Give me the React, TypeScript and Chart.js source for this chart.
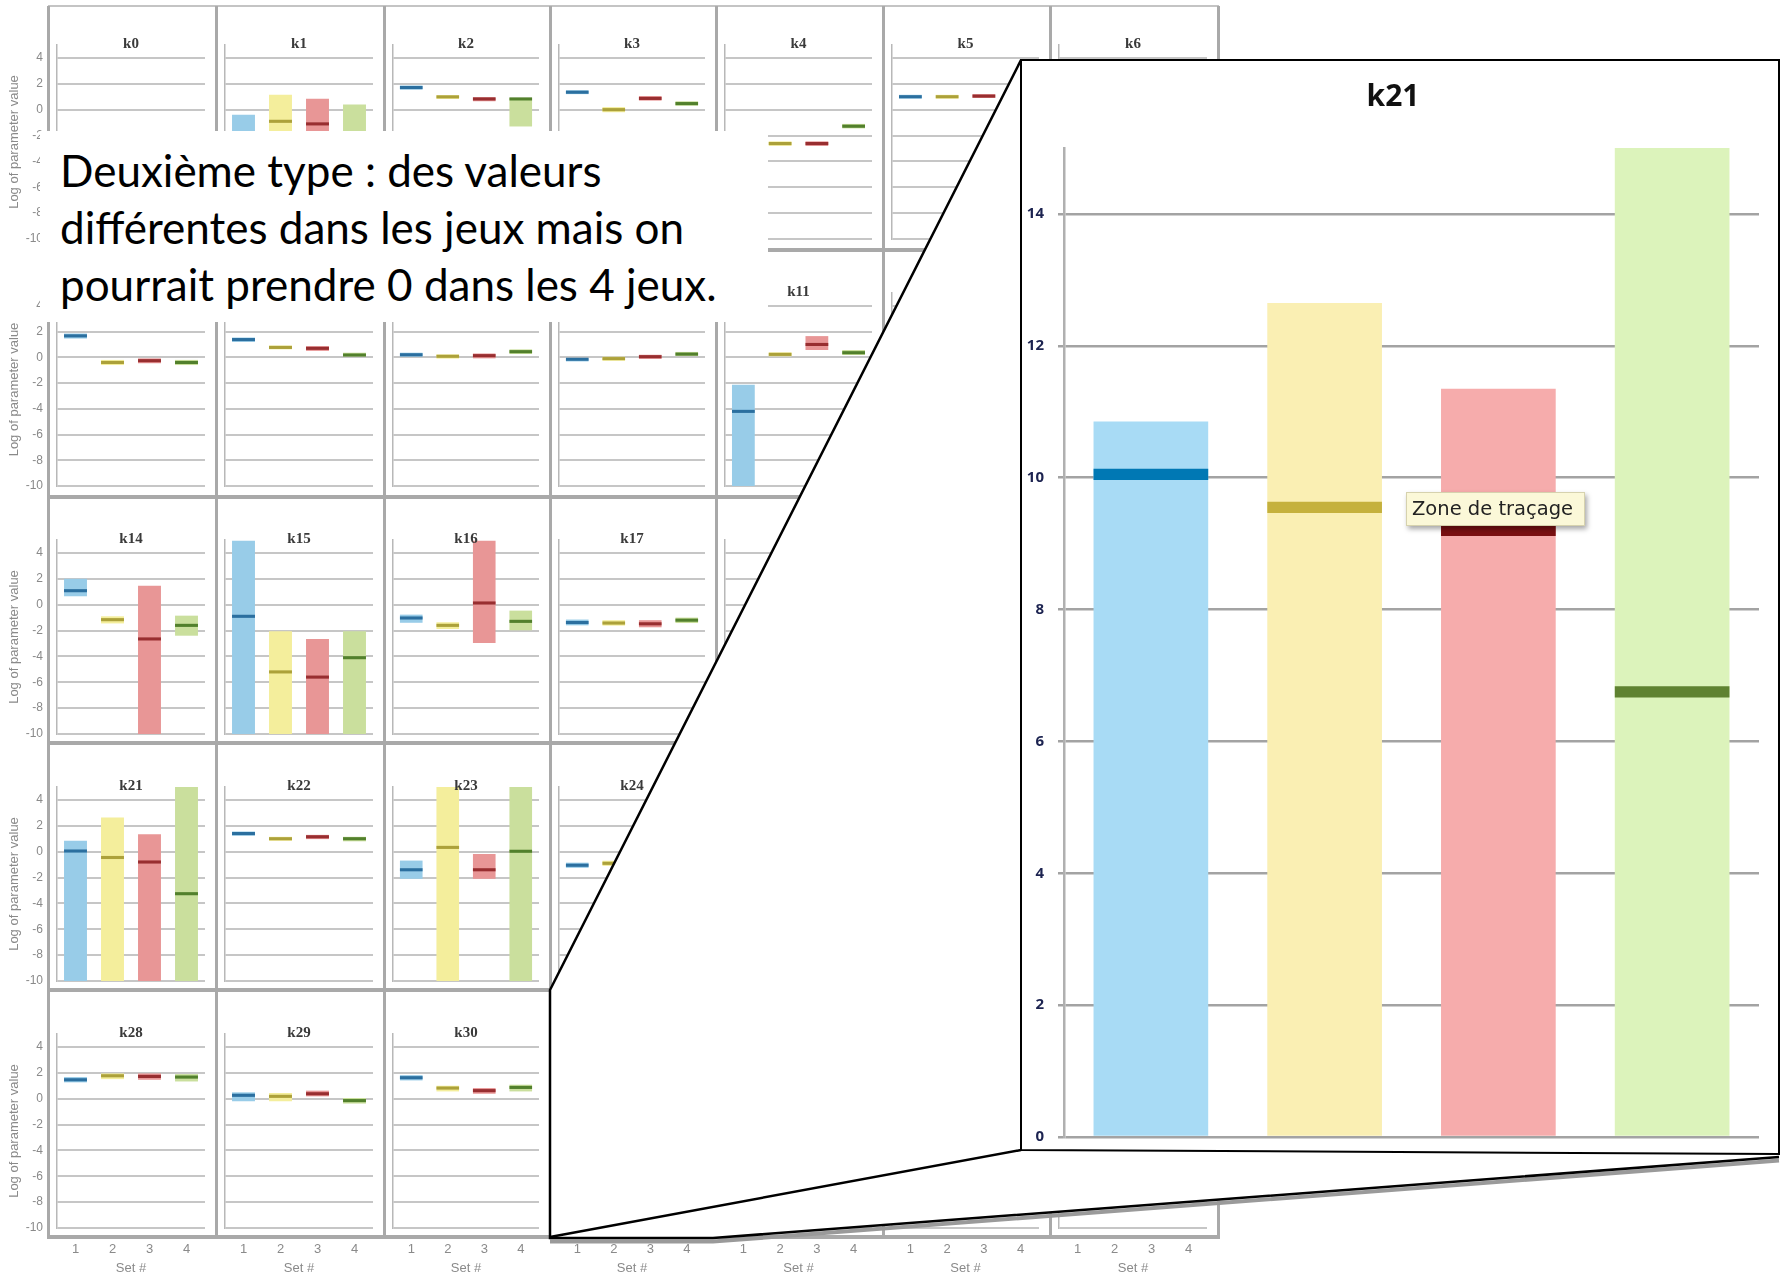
import React, { useEffect, useRef } from 'react';
import { Chart, registerables } from 'chart.js';

Chart.register(...registerables);

// ---------------- data ----------------
const setLabels = ['1', '2', '3', '4'];
const paramNames = [
  'k0', 'k1', 'k2', 'k3', 'k4', 'k5', 'k6',
  'k7', 'k8', 'k9', 'k10', 'k11', 'k12', 'k13',
  'k14', 'k15', 'k16', 'k17', 'k18', 'k19', 'k20',
  'k21', 'k22', 'k23', 'k24', 'k25', 'k26', 'k27',
  'k28', 'k29', 'k30', 'k31', 'k32', 'k33', 'k34',
];
const emptySet: (number | null)[] = [null, null, null, null];

const k1Low = [-10, -10, -10, -10];
const k1High = [-0.4, 1.15, 0.85, 0.4];
const k1Median = [-3.5, -0.9, -1.1, -3.0];

const k2Low = [1.55, 0.83, 0.65, -1.3];
const k2High = [1.87, 1.12, 0.96, 0.91];
const k2Median = [1.71, 0.99, 0.83, 0.83];

const k3Low = [1.2, -0.2, 0.7, 0.3];
const k3High = [1.5, 0.2, 1.05, 0.65];
const k3Median = [1.35, 0.0, 0.87, 0.47];

const k4Low = [-4.3, -2.8, -2.8, -1.45];
const k4High = [-3.7, -2.45, -2.45, -1.1];
const k4Median = [-4.0, -2.62, -2.62, -1.28];

const k5Low = [0.85, 0.85, 0.9, 0.85];
const k5High = [1.15, 1.15, 1.2, 1.15];
const k5Median = [1.0, 1.0, 1.05, 1.0];

const k7Low = [1.46, -0.6, -0.46, -0.6];
const k7High = [1.85, -0.2, -0.08, -0.2];
const k7Median = [1.67, -0.4, -0.26, -0.4];

const k8Low = [1.2, 0.62, 0.5, 0.0];
const k8High = [1.54, 0.92, 0.87, 0.36];
const k8Median = [1.38, 0.77, 0.7, 0.18];

const k9Low = [0.05, -0.1, -0.08, 0.26];
const k9High = [0.36, 0.23, 0.3, 0.62];
const k9Median = [0.2, 0.08, 0.13, 0.44];

const k10Low = [-0.32, -0.27, -0.12, 0.1];
const k10High = [0.0, 0.05, 0.2, 0.42];
const k10Median = [-0.15, -0.1, 0.05, 0.25];

const k11Low = [-10, 0.0, 0.57, 0.18];
const k11High = [-2.13, 0.39, 1.65, 0.57];
const k11Median = [-4.2, 0.23, 1.0, 0.36];

const k14Low = [0.65, -1.45, -10, -2.4];
const k14High = [2.0, -0.9, 1.47, -0.85];
const k14Median = [1.08, -1.16, -2.65, -1.6];

const k15Low = [-10, -10, -10, -10];
const k15High = [4.95, -2.06, -2.65, -2.06];
const k15Median = [-0.9, -5.2, -5.6, -4.1];

const k16Low = [-1.4, -1.88, -2.96, -1.98];
const k16High = [-0.77, -1.36, 4.94, -0.46];
const k16Median = [-1.03, -1.6, 0.13, -1.29];

const k17Low = [-1.6, -1.62, -1.75, -1.42];
const k17High = [-1.15, -1.2, -1.2, -1.0];
const k17Median = [-1.38, -1.42, -1.48, -1.2];

const k21Low = [-10, -10, -10, -10];
const k21High = [0.85, 2.65, 1.35, 5.0];
const k21Median = [0.05, -0.45, -0.8, -3.25];

const k22Low = [1.23, 0.84, 0.97, 0.8];
const k22High = [1.56, 1.15, 1.3, 1.15];
const k22Median = [1.4, 1.0, 1.15, 1.0];

const k23Low = [-2.1, -10, -2.1, -10];
const k23High = [-0.69, 5.0, -0.18, 5.0];
const k23Median = [-1.4, 0.33, -1.4, 0.03];

const k24Low = [-1.25, -1.1, -1.3, -1.3];
const k24High = [-0.85, -0.7, -0.9, -0.9];
const k24Median = [-1.05, -0.9, -1.1, -1.1];

const k28Low = [1.26, 1.51, 1.46, 1.33];
const k28High = [1.67, 1.95, 1.95, 1.9];
const k28Median = [1.46, 1.77, 1.72, 1.67];

const k29Low = [-0.2, -0.2, 0.18, -0.38];
const k29High = [0.49, 0.44, 0.62, 0.05];
const k29Median = [0.26, 0.18, 0.38, -0.15];

const k30Low = [1.41, 0.56, 0.38, 0.56];
const k30High = [1.82, 1.0, 0.82, 1.08];
const k30Median = [1.62, 0.82, 0.62, 0.87];

// zoomed k21 panel (axis shifted: 0 .. 15)
const zoomLow = [0, 0, 0, 0];
const zoomHigh = [10.85, 12.65, 11.35, 15.0];
const zoomMedian = [10.05, 9.55, 9.2, 6.75];

const smallTicks = { min: -10, max: 5, step: 2 };
const zoomTicks = { min: 0, max: 15, step: 2 };

const gridLow = [
  emptySet, k1Low, k2Low, k3Low, k4Low, k5Low, emptySet,
  k7Low, k8Low, k9Low, k10Low, k11Low, emptySet, emptySet,
  k14Low, k15Low, k16Low, k17Low, emptySet, emptySet, emptySet,
  k21Low, k22Low, k23Low, k24Low, emptySet, emptySet, emptySet,
  k28Low, k29Low, k30Low, emptySet, emptySet, emptySet, emptySet,
];
const gridHigh = [
  emptySet, k1High, k2High, k3High, k4High, k5High, emptySet,
  k7High, k8High, k9High, k10High, k11High, emptySet, emptySet,
  k14High, k15High, k16High, k17High, emptySet, emptySet, emptySet,
  k21High, k22High, k23High, k24High, emptySet, emptySet, emptySet,
  k28High, k29High, k30High, emptySet, emptySet, emptySet, emptySet,
];
const gridMedian = [
  emptySet, k1Median, k2Median, k3Median, k4Median, k5Median, emptySet,
  k7Median, k8Median, k9Median, k10Median, k11Median, emptySet, emptySet,
  k14Median, k15Median, k16Median, k17Median, emptySet, emptySet, emptySet,
  k21Median, k22Median, k23Median, k24Median, emptySet, emptySet, emptySet,
  k28Median, k29Median, k30Median, emptySet, emptySet, emptySet, emptySet,
];

// ---------------- styles / layout ----------------
const rangeColors = ['#98cce8', '#f4ee9c', '#e89696', '#cadf9d'];
const medianColors = ['#2b6f9f', '#aca13a', '#982e30', '#52802c'];
const zoomRangeColors = ['#a8dbf5', '#faefb3', '#f6acac', '#dcf3bb'];
const zoomMedianColors = ['#0078b4', '#c5b13d', '#7a1012', '#5f8231'];

const COL_X = [48, 216, 384, 550, 716, 883, 1050, 1218];
const ROW_Y = [6, 250, 497, 743, 990, 1237];
const ZERO_Y0 = 110;
const ROW_STEP = 247.2;
const PX_UNIT = 12.92;
const MED_HALF = 0.12;
const ZOOM_MED_HALF = 0.085;

const cellTitlePlugin = {
  id: 'cellTitle',
  afterDatasetsDraw(chart: any, _args: any, opts: any) {
    if (!opts || !opts.text) return;
    const { ctx, chartArea } = chart;
    ctx.save();
    ctx.font = opts.font;
    ctx.fillStyle = opts.color;
    ctx.textAlign = 'center';
    ctx.textBaseline = 'middle';
    ctx.fillText(opts.text, (chartArea.left + chartArea.right) / 2, chartArea.top - 1);
    ctx.restore();
  },
};

function SmallChart({ index }: { index: number }) {
  const ref = useRef<HTMLCanvasElement | null>(null);
  const col = index % 7;
  const row = Math.floor(index / 7);
  const zero = ZERO_Y0 + ROW_STEP * row;
  const areaTop = Math.round(zero - smallTicks.max * PX_UNIT);
  const areaBottom = Math.round(zero - smallTicks.min * PX_UNIT);
  const areaLeft = COL_X[col] + 9;
  const areaRight = COL_X[col + 1] - 11;
  const cLeft = col === 0 ? 0 : COL_X[col];
  const cRight = COL_X[col + 1];
  const cTop = ROW_Y[row];
  const cBottom = row === 4 ? 1280 : ROW_Y[row + 1];
  const w = cRight - cLeft;
  const h = cBottom - cTop;
  const firstCol = col === 0;
  const lastRow = row === 4;

  useEffect(() => {
    const low = gridLow[index];
    const high = gridHigh[index];
    const med = gridMedian[index];
    const yWidth = firstCol ? areaLeft - cLeft - 4 : 0;
    const xHeight = lastRow ? cBottom - areaBottom : 0;
    const chart = new Chart(ref.current as HTMLCanvasElement, {
      type: 'bar',
      data: {
        labels: setLabels,
        datasets: [
          {
            label: 'median',
            data: med.map((m: any) => (m == null ? null : [m - MED_HALF, m + MED_HALF])),
            backgroundColor: medianColors,
            order: 0,
            grouped: false,
            barPercentage: 0.62,
            categoryPercentage: 1,
          } as any,
          {
            label: 'range',
            data: low.map((l: any, i: number) => (l == null ? null : [l, high[i]])),
            backgroundColor: rangeColors,
            order: 1,
            grouped: false,
            barPercentage: 0.62,
            categoryPercentage: 1,
          } as any,
        ],
      },
      options: {
        responsive: false,
        animation: false,
        devicePixelRatio: 1,
        events: [],
        layout: {
          padding: {
            left: firstCol ? 4 : areaLeft - cLeft,
            right: cRight - areaRight,
            top: areaTop - cTop,
            bottom: lastRow ? 0 : cBottom - areaBottom,
          },
        },
        plugins: {
          legend: { display: false },
          tooltip: { enabled: false },
          cellTitle: { text: paramNames[index], font: 'bold 15px "Liberation Serif"', color: '#3a3a3a' },
        } as any,
        scales: {
          x: {
            display: lastRow,
            grid: { display: false, drawTicks: false },
            border: { display: false },
            ticks: { padding: 14, color: '#8a8a8a', font: { family: 'Liberation Sans', size: 13 } },
            title: {
              display: true,
              text: 'Set #',
              color: '#8a8a8a',
              font: { family: 'Liberation Sans', size: 13 },
              padding: { top: 0, bottom: 4 },
            },
            afterFit: (s: any) => { s.height = xHeight; },
          },
          y: {
            min: smallTicks.min,
            max: smallTicks.max,
            ticks: {
              stepSize: smallTicks.step,
              includeBounds: false,
              display: firstCol,
              padding: 0,
              color: '#8a8a8a',
              font: { family: 'Liberation Sans', size: 12 },
            },
            grid: { color: '#c6c6c6', lineWidth: 2, drawTicks: true, tickLength: 14, tickColor: 'rgba(0,0,0,0)' },
            border: { display: true, color: '#b8b8b8', width: 1.5 },
            title: {
              display: firstCol,
              text: 'Log of parameter value',
              color: '#8a8a8a',
              font: { family: 'Liberation Sans', size: 13 },
              padding: { top: 3, bottom: 0 },
            },
            afterFit: (s: any) => { s.width = yWidth; },
          },
        } as any,
      },
      plugins: [cellTitlePlugin],
    });
    return () => chart.destroy();
  }, []);

  return (
    <canvas
      ref={ref}
      width={w}
      height={h}
      style={{ position: 'absolute', left: cLeft, top: cTop, width: w, height: h }}
    />
  );
}

function ZoomChart() {
  const ref = useRef<HTMLCanvasElement | null>(null);
  const left = 1023;
  const top = 62;
  const w = 754;
  const h = 1098;
  useEffect(() => {
    const chart = new Chart(ref.current as HTMLCanvasElement, {
      type: 'bar',
      data: {
        labels: setLabels,
        datasets: [
          {
            label: 'median',
            data: zoomMedian.map((m) => [m - ZOOM_MED_HALF, m + ZOOM_MED_HALF]),
            backgroundColor: zoomMedianColors,
            order: 0,
            grouped: false,
            barPercentage: 0.66,
            categoryPercentage: 1,
          } as any,
          {
            label: 'range',
            data: zoomLow.map((l, i) => [l, zoomHigh[i]]),
            backgroundColor: zoomRangeColors,
            order: 1,
            grouped: false,
            barPercentage: 0.66,
            categoryPercentage: 1,
          } as any,
        ],
      },
      options: {
        responsive: false,
        animation: false,
        devicePixelRatio: 1,
        events: [],
        layout: { padding: { left: 4, right: 18, top: 0, bottom: 22 } },
        plugins: {
          legend: { display: false },
          tooltip: { enabled: false },
          title: {
            display: true,
            text: 'k21',
            color: '#111111',
            font: { family: 'Open Sans', weight: 'bold', size: 30 },
            padding: { top: 17, bottom: 33 },
          },
        },
        scales: {
          x: { display: false },
          y: {
            min: zoomTicks.min,
            max: zoomTicks.max,
            ticks: {
              stepSize: zoomTicks.step,
              includeBounds: false,
              padding: 14,
              color: '#1c2350',
              font: { family: 'Open Sans', weight: 'bold', size: 15 },
            },
            grid: { color: '#a3a3a3', lineWidth: 2.5, tickLength: 6, tickColor: '#a3a3a3' },
            border: { display: true, color: '#b0b0b0', width: 2.5 },
            afterFit: (s: any) => { s.width = 37; },
          },
        } as any,
      },
    });
    return () => chart.destroy();
  }, []);
  return (
    <canvas
      ref={ref}
      width={w}
      height={h}
      style={{ position: 'absolute', left, top, width: w, height: h }}
    />
  );
}

export default function App() {
  const cells = paramNames.map((_, i) => <SmallChart key={i} index={i} />);
  const borderColor = '#a9a9a9';
  return (
    <div
      style={{
        position: 'absolute',
        left: 0,
        top: 0,
        width: 1785,
        height: 1280,
        background: '#ffffff',
        overflow: 'hidden',
      }}
    >
      {cells}
      {/* cell borders */}
      <div style={{ position: 'absolute', left: 48, top: 5, width: 1171, height: 2, background: '#c4c4c4' }} />
      {COL_X.map((x, i) => (
        <div
          key={'v' + i}
          style={{ position: 'absolute', left: x - 1.5, top: 6, width: 3, height: 1233, background: borderColor }}
        />
      ))}
      {ROW_Y.slice(1).map((y, i) => (
        <div
          key={'h' + i}
          style={{ position: 'absolute', left: 48, top: y - 2, width: 1171, height: 4, background: borderColor }}
        />
      ))}
      {/* text box */}
      <div
        style={{
          position: 'absolute',
          left: 40,
          top: 131,
          width: 728,
          height: 191,
          background: '#ffffff',
        }}
      >
        <div
          style={{
            position: 'absolute',
            left: 20,
            top: 11,
            fontFamily: 'Lato, "Open Sans", sans-serif',
            fontSize: 44,
            lineHeight: '57px',
            color: '#000',
            whiteSpace: 'nowrap',
          }}
        >
          <div>Deuxième type : des valeurs</div>
          <div>différentes dans les jeux mais on</div>
          <div>pourrait prendre 0 dans les 4 jeux.</div>
        </div>
      </div>
      {/* zoom projection */}
      <svg width={1785} height={1280} style={{ position: 'absolute', left: 0, top: 0 }}>
        <polygon points="1021,60 550,990 550,1239 713,1239 1779,1158 1779,60" fill="#ffffff" />
        <polyline points="550,1241.5 713,1241.5 1779,1160.5" stroke="#9a9a9a" strokeWidth={4} fill="none" />
        <polyline points="1021,60 550,990 550,1238 713,1238 1779,1157" stroke="#000" strokeWidth={2.5} fill="none" />
        <line x1={550} y1={1237} x2={1021} y2={1150} stroke="#000" strokeWidth={2.5} />
        <polygon points="1021,60 1779,60 1779,1154 1021,1150" fill="#ffffff" stroke="#000" strokeWidth={2} />
      </svg>
      <ZoomChart />
      {/* plot-area tooltip */}
      <div
        style={{
          position: 'absolute',
          left: 1406,
          top: 492,
          width: 179,
          height: 34,
          boxSizing: 'border-box',
          background: '#fbf8d8',
          border: '1px solid #d6d2ae',
          boxShadow: '2px 3px 5px rgba(0,0,0,0.35)',
          fontFamily: '"DejaVu Sans", sans-serif',
          fontSize: 19.5,
          lineHeight: '32px',
          color: '#222',
          paddingLeft: 5,
          whiteSpace: 'nowrap',
        }}
      >
        Zone de traçage
      </div>
    </div>
  );
}
